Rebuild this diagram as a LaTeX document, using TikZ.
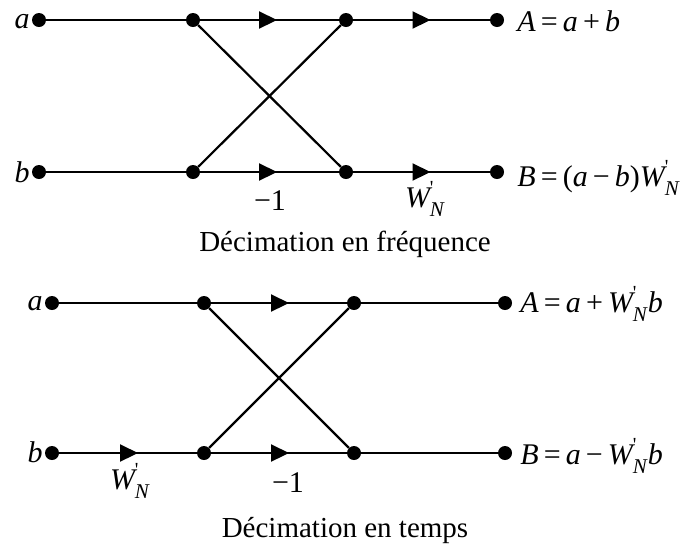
\documentclass[tikz,border=0pt]{standalone}
\usepackage{fontspec}
\setmainfont{Liberation Serif}
\usetikzlibrary{arrows.meta,decorations.markings}
\newcommand{\Wn}{\textit{W}\kern-0.08em\rlap{\raisebox{0.42em}{\fontsize{20}{20}\selectfont\textquotesingle}}\raisebox{-0.3em}{\fontsize{21}{21}\selectfont\textit{N}}}
\newcommand{\gapsp}{\hspace{0.17em}}
\begin{document}
\begin{tikzpicture}[x=1pt,y=-1pt,
  dot/.style={circle,fill=black,inner sep=0pt,minimum size=14pt},
  wire/.style={line width=2.2pt},
  fwd/.style={wire,postaction={decorate},decoration={markings,
     mark=at position 0.5 with {\pgftransformxshift{#1}\arrow{Triangle[length=18pt,width=17pt]}}}},
  fwd/.default={9pt},
  lab/.style={font=\fontsize{30}{32}\selectfont,inner sep=2pt},
  captxt/.style={font=\fontsize{29}{31}\selectfont}]
\useasboundingbox (0,0) rectangle (695,550);
% top diagram
\node[dot] (a1) at (39,20) {};
\node[dot] (n1) at (193,20) {};
\node[dot] (m1) at (346,20) {};
\node[dot] (o1) at (497,20) {};
\node[dot] (b1) at (39,172) {};
\node[dot] (n2) at (193,172) {};
\node[dot] (m2) at (346,172) {};
\node[dot] (o2) at (497,172) {};
\draw[wire] (a1) -- (n1);
\draw[wire] (b1) -- (n2);
\draw[fwd=7.5pt] (n1) -- (m1);
\draw[fwd=7.5pt] (n2) -- (m2);
\draw[fwd] (m1) -- (o1);
\draw[fwd] (m2) -- (o2);
\draw[wire] (n1) -- (m2);
\draw[wire] (n2) -- (m1);
\node[lab,anchor=base east] (la1) at ([yshift=-8pt]a1.west) {\textit{a}};
\node[lab,anchor=base east] (lb1) at ([yshift=-10pt]b1.west) {\textit{b}};
\node[lab,anchor=base west] (lA1) at ([xshift=11pt,yshift=-11pt]o1.east) {\textit{A}\gapsp=\gapsp\textit{a}\gapsp+\gapsp\textit{b}};
\node[lab,anchor=base west] (lB1) at ([xshift=11pt,yshift=-14pt]o2.east) {\textit{B}\gapsp=\gapsp(\textit{a}\gapsp−\gapsp\textit{b})\Wn};
\node[lab] (m1l) at (270,201) {−1};
\node[lab] (w1l) at (425,199) {\Wn};
\node[captxt] (c1) at (345,244) {Décimation en fréquence};
% bottom diagram
\node[dot] (a2) at (52,303) {};
\node[dot] (p1) at (204,303) {};
\node[dot] (q1) at (354,303) {};
\node[dot] (r1) at (505,303) {};
\node[dot] (b2) at (52,453) {};
\node[dot] (p2) at (204,453) {};
\node[dot] (q2) at (354,453) {};
\node[dot] (r2) at (505,453) {};
\draw[wire] (a2) -- (p1);
\draw[fwd=10pt] (b2) -- (p2);
\draw[fwd=10pt] (p1) -- (q1);
\draw[fwd=10pt] (p2) -- (q2);
\draw[wire] (q1) -- (r1);
\draw[wire] (q2) -- (r2);
\draw[wire] (p1) -- (q2);
\draw[wire] (p2) -- (q1);
\node[lab,anchor=base east] (la2) at ([yshift=-7pt]a2.west) {\textit{a}};
\node[lab,anchor=base east] (lb2) at ([yshift=-9pt]b2.west) {\textit{b}};
\node[lab,anchor=base west] (lA2) at ([xshift=6pt,yshift=-9pt]r1.east) {\textit{A}\gapsp=\gapsp\textit{a}\gapsp+\gapsp\Wn\textit{b}};
\node[lab,anchor=base west] (lB2) at ([xshift=6pt,yshift=-11pt]r2.east) {\textit{B}\gapsp=\gapsp\textit{a}\gapsp−\gapsp\Wn\textit{b}};
\node[lab] (w2l) at (130,481) {\Wn};
\node[lab] (m2l) at (288,483) {−1};
\node[captxt] (c2) at (345,530) {Décimation en temps};
\end{tikzpicture}
\end{document}
